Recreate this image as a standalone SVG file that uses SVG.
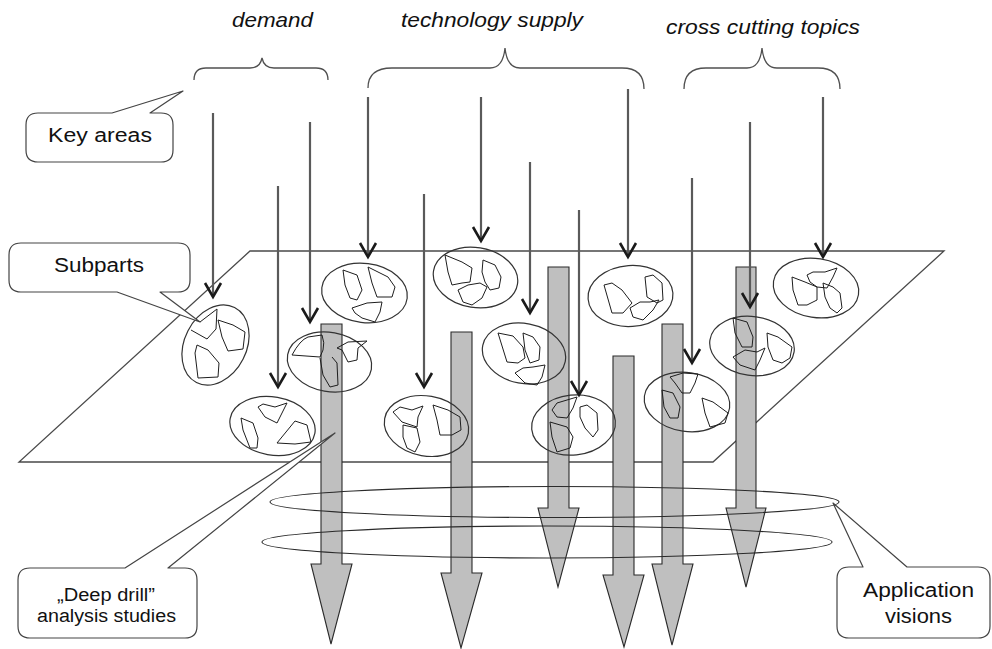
<svg xmlns="http://www.w3.org/2000/svg" width="992" height="649" viewBox="0 0 992 649">
  <style>
    .bg { fill: #ffffff; }
    .plane { fill: none; stroke: #4a4a4a; stroke-width: 1.3; }
    .brace { fill: none; stroke: #505050; stroke-width: 1.3; }
    .drill { fill: #bfbfbf; stroke: #2a2a2a; stroke-width: 1.1; stroke-linejoin: miter; }
    .area { fill: none; stroke: #333333; stroke-width: 1.2; }
    .part { fill: none; stroke: #1e1e1e; stroke-width: 1; stroke-linejoin: round; }
    .ring { fill: none; stroke: #2a2a2a; stroke-width: 1.1; }
    .flow { fill: none; stroke: #5a5a5a; stroke-width: 2.2; marker-end: url(#chevron); }
    .callout { fill: #ffffff; stroke: #444444; stroke-width: 1.2; stroke-linejoin: round; }
    .lbl { font-family: "Liberation Sans", Arial, sans-serif; font-size: 20px; fill: #111111; text-anchor: middle; }
    .small { font-size: 18px; }
    .topic { font-family: "Liberation Sans", Arial, sans-serif; font-size: 21px; font-style: italic; fill: #111111; text-anchor: middle; }
  </style>
  <defs>
    <marker id="chevron" markerUnits="userSpaceOnUse" viewBox="-16 -10 18 20" markerWidth="18" markerHeight="20" refX="0" refY="0" orient="auto" overflow="visible">
      <path d="M-14,-8 L0,0 L-14,8" fill="none" stroke="#1a1a1a" stroke-width="2.6" stroke-linejoin="miter"/>
    </marker>
  </defs>

  <rect class="bg" x="0" y="0" width="992" height="649"/>

  <!-- topic headings and their braces -->
  <g id="topics">
    <text class="topic" x="272.5" y="27" textLength="81" lengthAdjust="spacingAndGlyphs">demand</text>
    <text class="topic" x="492" y="27" textLength="182" lengthAdjust="spacingAndGlyphs">technology supply</text>
    <text class="topic" x="763" y="34" textLength="194" lengthAdjust="spacingAndGlyphs">cross cutting topics</text>
    <path class="brace" d="M194,80 Q194,68 206,68 L250,68 Q260,68 262,58 Q264,68 274,68 L316,68 Q328,68 328,80"/>
    <path class="brace" d="M368,88 Q368,68 392,68 L490,68 Q503,68 505,48 Q507,68 520,68 L622,68 Q644,68 644,89"/>
    <path class="brace" d="M684,89 Q684,68 706,68 L747,68 Q760,68 762,48 Q764,68 777,68 L818,68 Q840,68 840,89"/>
  </g>

  <!-- the plane of key areas -->
  <g id="plane">
    <polygon class="plane" points="250,251 944,251 713,462 19,462"/>
  </g>

  <!-- deep drill studies: wide grey arrows through the plane -->
  <g id="drills">
    <polygon class="drill" points="321,324 342,324 342,564 352,564 331,644 311,564 321,564"/>
    <polygon class="drill" points="451,332 472,332 472,573 482,573 461,648 441,573 451,573"/>
    <polygon class="drill" points="548,267 569,267 569,508 579,508 558,587 538,508 548,508"/>
    <polygon class="drill" points="613,356 634,356 634,575 644,575 624,647 603,575 613,575"/>
    <polygon class="drill" points="662,324 683,324 683,564 693,564 672,645 652,564 662,564"/>
    <polygon class="drill" points="736,267 756,267 756,508 766,508 746,587 726,508 736,508"/>
  </g>

  <!-- key areas, each with its subparts -->
  <g id="area-1">
    <ellipse class="area" cx="215.5" cy="345" rx="42" ry="31" transform="rotate(-63 215.5 345)"/>
    <path class="part" d="M191,330 L207,339 L216,329 L217,309 L200,322"/>
    <path class="part" d="M218,320 L233,325 L245,332 L243,349 L228,351 L222,337 Z"/>
    <path class="part" d="M197,345 L195,353 L198,378 L218,377 L219,363 L208,350 Z"/>
  </g>
  <g id="area-2">
    <ellipse class="area" cx="329.5" cy="362" rx="42.5" ry="29.5" transform="rotate(10 329.5 362)"/>
    <path class="part" d="M292,355 Q300,340 308,337 L322,335 Q325,343 323,350 L320,357 Z"/>
    <path class="part" d="M337,348 L348,342 L367,341 L358,348 L357,360 L348,362 L342,350 Z"/>
    <path class="part" d="M320,358 L323,375 L330,387 L338,385 L337,363 L332,357"/>
  </g>
  <g id="area-3">
    <ellipse class="area" cx="272.5" cy="426" rx="43" ry="29" transform="rotate(10 272.5 426)"/>
    <path class="part" d="M258,407 L263,404 L275,407 L287,403 L282,413 L277,423 L265,417 Z"/>
    <path class="part" d="M241,418 L253,423 L258,438 L257,448 L250,448 L243,430 Z"/>
    <path class="part" d="M277,443 L295,421 L307,425 L311,442 L295,444 Z"/>
  </g>
  <g id="area-4">
    <ellipse class="area" cx="364.5" cy="293" rx="43" ry="29.5" transform="rotate(7 364.5 293)"/>
    <path class="part" d="M343,270 L357,275 L362,290 L357,300 L350,298 L345,285 Z"/>
    <path class="part" d="M368,267 L388,277 L395,287 L392,297 L377,297 L372,283 Z"/>
    <path class="part" d="M352,308 L367,303 L382,302 L380,312 L375,322 L362,318 L355,313 Z"/>
  </g>
  <g id="area-5">
    <ellipse class="area" cx="426.5" cy="426" rx="42.5" ry="30" transform="rotate(10 426.5 426)"/>
    <path class="part" d="M393,412 L400,407 L412,410 L423,406 L418,417 L417,427 L402,422 Z"/>
    <path class="part" d="M403,425 L417,428 L420,442 L415,452 L407,448 L403,437 Z"/>
    <path class="part" d="M433,405 L448,410 L460,417 L461,430 L452,435 L440,435 L437,420 Z"/>
  </g>
  <g id="area-6">
    <ellipse class="area" cx="475.5" cy="277.5" rx="42.5" ry="30" transform="rotate(9 475.5 277.5)"/>
    <path class="part" d="M445,255 L462,262 L472,268 L470,282 L462,283 L452,285 L448,272 Z"/>
    <path class="part" d="M483,260 L495,265 L501,277 L499,288 L490,290 L485,282 L482,272 Z"/>
    <path class="part" d="M458,290 L468,285 L480,283 L487,287 L482,298 L472,305 L463,302 Z"/>
  </g>
  <g id="area-7">
    <ellipse class="area" cx="524" cy="353.5" rx="42" ry="30" transform="rotate(11 524 353.5)"/>
    <path class="part" d="M498,333 L513,336 L523,347 L525,358 L518,363 L507,362 Z"/>
    <path class="part" d="M523,333 L533,337 L540,347 L539,360 L530,363 L525,350 Z"/>
    <path class="part" d="M515,373 L523,368 L533,367 L545,365 L542,377 L537,385 L525,383 Z"/>
  </g>
  <g id="area-8">
    <ellipse class="area" cx="573.5" cy="425" rx="42" ry="30" transform="rotate(-6 573.5 425)"/>
    <path class="part" d="M552,410 L557,403 L577,397 L573,408 L567,418 L557,417 Z"/>
    <path class="part" d="M550,422 L567,427 L573,437 L570,448 L557,452 L552,437 Z"/>
    <path class="part" d="M580,407 L587,405 L597,413 L598,430 L593,437 L585,428 L580,417 Z"/>
  </g>
  <g id="area-9">
    <ellipse class="area" cx="630.5" cy="296" rx="42.5" ry="30.5" transform="rotate(-4 630.5 296)"/>
    <path class="part" d="M604,285 L612,283 L622,290 L632,303 L623,313 L612,313 Z"/>
    <path class="part" d="M645,277 L653,275 L662,283 L663,300 L657,303 L647,297 Z"/>
    <path class="part" d="M630,308 L640,302 L650,302 L659,300 L653,310 L643,320 L633,317 Z"/>
  </g>
  <g id="area-10">
    <ellipse class="area" cx="687" cy="402" rx="43" ry="29.5" transform="rotate(8 687 402)"/>
    <path class="part" d="M670,377 L683,373 L698,374 L695,383 L690,393 L682,393 L675,383 Z"/>
    <path class="part" d="M662,390 L673,393 L680,407 L678,418 L670,418 L664,407 Z"/>
    <path class="part" d="M702,398 L713,402 L728,413 L725,423 L710,427 L705,413 Z"/>
  </g>
  <g id="area-11">
    <ellipse class="area" cx="752" cy="346" rx="42.5" ry="29.5" transform="rotate(8 752 346)"/>
    <path class="part" d="M733,318 L747,322 L753,337 L752,347 L742,347 L735,333 Z"/>
    <path class="part" d="M733,357 L745,350 L757,352 L765,348 L760,360 L755,370 L740,365 Z"/>
    <path class="part" d="M767,333 L778,337 L792,347 L790,358 L782,363 L773,360 L768,347 Z"/>
  </g>
  <g id="area-12">
    <ellipse class="area" cx="816" cy="288" rx="43" ry="29.5" transform="rotate(9 816 288)"/>
    <path class="part" d="M807,275 L813,272 L825,272 L837,268 L833,277 L827,288 L817,287 L810,282 Z"/>
    <path class="part" d="M792,277 L805,282 L817,287 L817,300 L807,305 L798,305 L793,290 Z"/>
    <path class="part" d="M823,283 L833,287 L840,293 L842,308 L837,313 L830,308 L825,297 Z"/>
  </g>

  <!-- application vision rings around the drills -->
  <g id="visions">
    <ellipse class="ring" cx="554.5" cy="502" rx="284.5" ry="15.5"/>
    <ellipse class="ring" cx="547" cy="542" rx="285" ry="16"/>
  </g>

  <!-- key area arrows coming down from the topics -->
  <g id="connectors">
    <line class="flow" x1="213" y1="113" x2="213" y2="297"/>
    <line class="flow" x1="310" y1="122" x2="310" y2="322"/>
    <line class="flow" x1="278" y1="186" x2="278" y2="387"/>
    <line class="flow" x1="368" y1="97" x2="368" y2="257"/>
    <line class="flow" x1="424" y1="194" x2="424" y2="387"/>
    <line class="flow" x1="481" y1="97" x2="481" y2="241"/>
    <line class="flow" x1="530" y1="162" x2="530" y2="313"/>
    <line class="flow" x1="579" y1="210" x2="579" y2="395"/>
    <line class="flow" x1="628" y1="89" x2="628" y2="257"/>
    <line class="flow" x1="692" y1="178" x2="692" y2="363"/>
    <line class="flow" x1="750" y1="122" x2="750" y2="307"/>
    <line class="flow" x1="823" y1="97" x2="823" y2="257"/>
  </g>

  <!-- callouts -->
  <g id="callout-key-areas">
    <path class="callout" d="M38,113 L112,113 L183,91 L150,113 L161,113 Q173,113 173,125 L173,150 Q173,162 161,162 L38,162 Q26,162 26,150 L26,125 Q26,113 38,113 Z"/>
    <text class="lbl" x="100" y="142" textLength="104" lengthAdjust="spacingAndGlyphs">Key areas</text>
  </g>
  <g id="callout-subparts">
    <path class="callout" d="M21,243 L178,243 Q190,243 190,255 L190,280 Q190,292 178,292 L160,292 L200,322 L117,292 L21,292 Q9,292 9,280 L9,255 Q9,243 21,243 Z"/>
    <text class="lbl" x="99" y="272" textLength="90" lengthAdjust="spacingAndGlyphs">Subparts</text>
  </g>
  <g id="callout-deep-drill">
    <path class="callout" d="M30,568 L125,568 L335,433 L168,568 L185,568 Q197,568 197,580 L197,626 Q197,638 185,638 L30,638 Q18,638 18,626 L18,580 Q18,568 30,568 Z"/>
    <text class="lbl small" x="106" y="601" textLength="98" lengthAdjust="spacingAndGlyphs">„Deep drill”</text>
    <text class="lbl small" x="106.5" y="622" textLength="139" lengthAdjust="spacingAndGlyphs">analysis studies</text>
  </g>
  <g id="callout-application-visions">
    <path class="callout" d="M849,567 L863,567 L833,503 L907,567 L978,567 Q990,567 990,579 L990,626 Q990,638 978,638 L849,638 Q837,638 837,626 L837,579 Q837,567 849,567 Z"/>
    <text class="lbl" x="918.5" y="597" textLength="111" lengthAdjust="spacingAndGlyphs">Application</text>
    <text class="lbl" x="918.5" y="623" textLength="67" lengthAdjust="spacingAndGlyphs">visions</text>
  </g>
</svg>
